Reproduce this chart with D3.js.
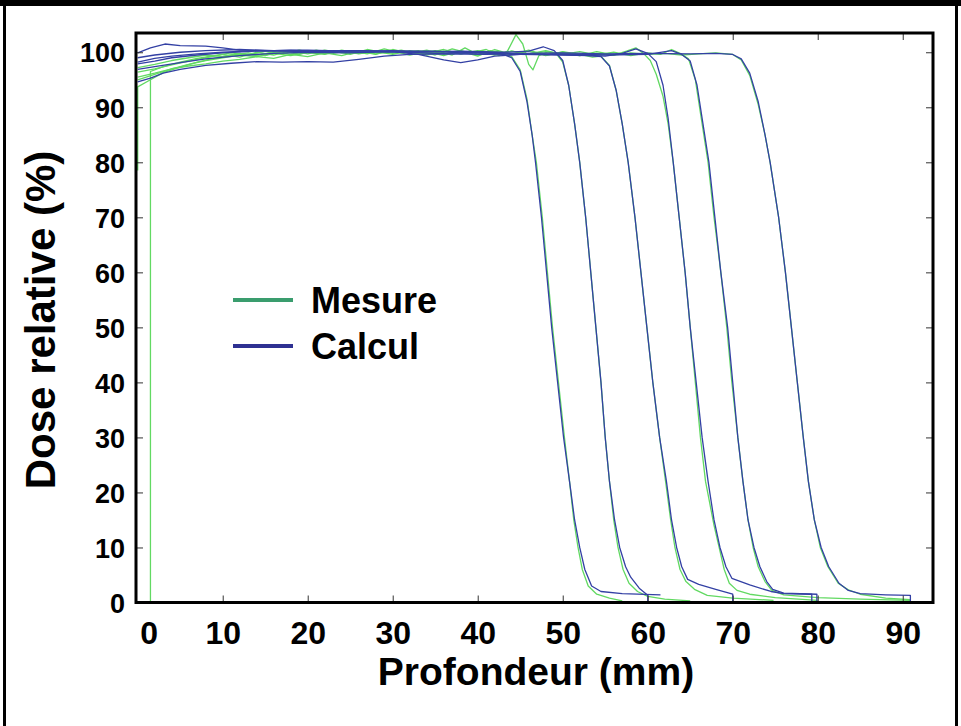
<!DOCTYPE html>
<html><head><meta charset="utf-8">
<script src="https://cdn.jsdelivr.net/npm/d3@7/dist/d3.min.js"></script>
<style>
html,body{margin:0;padding:0;background:#fff;}
svg{display:block;font-family:"Liberation Sans",Arial,sans-serif;}
</style></head>
<body><svg id="chart" width="961" height="726"></svg>
<script>
// ---------- data ----------
const xTicks = [0,10,20,30,40,50,60,70,80,90];
const yTicks = [0,10,20,30,40,50,60,70,80,90,100];
const legendLabels = ["Mesure","Calcul"];
const xTitle = "Profondeur (mm)";
const yTitle = "Dose relative (%)";

// Mesure (green)
const mesure1 = [[1.5,0],[1.5,96.5],[3,97.4],[5,98.2],[7,98.9],[9,99.4],[11,99.9],[13,99.5],[15,100.2],[17,99.7],[19,100.4],[21,99.8],[23,100.3],[25,99.6],[27,100.5],[29,99.9],[31,100.4],[33,99.7],[35,100.3],[37,99.5],[38.5,100.8],[40,99.6],[41.5,100.3],[43,99.7],[44,99.2],[45,96.8],[45.8,91.5],[46.4,85],[46.9,80],[47.6,70],[48.2,60],[48.8,50],[49.5,40],[50.2,30],[50.8,22],[51.3,15],[51.8,10],[52.3,6],[53,3],[54,1.5],[55.5,0.8],[57,0.3]];
const mesure2 = [[0,78.5],[0,93.7],[1.5,95],[3,96.3],[5,97.3],[7,98.2],[9,98.9],[11,99.5],[13,99.9],[15,99.4],[17,100.2],[19,99.6],[21,100.4],[23,99.8],[25,100.3],[27,99.7],[29,100.6],[31,99.9],[33,100.3],[35,99.5],[37,100.6],[39,99.8],[41,100.5],[42.5,99.4],[43.5,100.2],[44.5,103.2],[45.3,101.5],[46,97.8],[46.5,96.8],[47.2,99.4],[48.3,100.1],[49.3,99.6],[50,98.2],[50.7,94],[51.4,87],[52,80],[52.7,70],[53.3,60],[53.9,50],[54.5,40],[55,30],[55.5,22],[56,15],[56.5,10],[57.1,6],[57.8,3.5],[58.8,2],[60,1.1],[62,0.6],[65,0.3]];
const mesure3 = [[0,96.4],[2,97],[4,97.7],[6,98.4],[8,99],[10,99.6],[12,99.1],[14,100],[16,99.5],[18,100.3],[20,99.7],[22,100.4],[24,99.9],[26,100.2],[28,99.6],[30,100.5],[32,99.8],[34,100.4],[36,99.6],[38,100.2],[40,99.3],[42,100.5],[44,99.6],[46,100.2],[48,99.4],[50,100.1],[52,99.6],[53.5,99.1],[54.5,99.3],[55.5,97.6],[56.3,93],[57,87],[57.7,80],[58.5,70],[59.2,60],[59.9,50],[60.6,40],[61.4,30],[62.1,22],[62.7,15],[63.2,10],[63.8,6],[64.5,3.8],[65.5,2.4],[67,1.3],[70,0.8],[74.8,0.4]];
const mesure4 = [[0,95.5],[2,96.2],[4,97],[6,97.5],[8,97.9],[10,98.4],[12,98.7],[14,99.2],[16,98.9],[18,99.6],[20,99.2],[22,99.9],[24,99.4],[26,100.2],[28,99.7],[30,100.3],[32,99.5],[34,100.1],[36,99.4],[38,100.3],[40,99.5],[42,100.2],[44,99.6],[46,100.4],[48,99.5],[50,100],[52,99.4],[54,100.1],[56,99.5],[57.5,100.2],[58.6,100.8],[59.5,99.8],[60.3,98.5],[61,96],[61.8,92],[62.4,87],[63,80],[63.7,70],[64.4,60],[65,50],[65.6,40],[66.2,30],[66.8,22],[67.3,18],[67.8,14],[68.4,10],[69,6],[69.6,3.5],[70.5,2.2],[72,1.5],[75,0.9],[80,0.4]];
const mesure5 = [[0,97.2],[2,97.8],[4,98.5],[6,99],[8,99.5],[10,99.2],[12,99.8],[14,99.4],[16,100.1],[18,99.6],[20,100.2],[22,99.7],[24,100.4],[26,99.8],[28,100.1],[30,99.6],[32,100.3],[34,99.8],[36,100.5],[38,99.7],[40,100.1],[42,99.5],[44,100.2],[46,99.7],[48,100.3],[50,99.6],[52,100.1],[54,99.5],[56,100],[58,99.4],[60,99.9],[61.5,99.6],[62.8,100.5],[63.8,99.8],[64.8,98.8],[65.6,95],[66.3,88],[67.1,80],[67.8,70],[68.6,60],[69.3,50],[69.9,40],[70.6,30],[71.2,22],[71.8,15],[72.4,10],[73,6.5],[73.8,3.8],[74.6,2.2],[76,1.4],[80,0.9],[85,0.6],[90.9,0.4]];
const mesure6 = [[0,95],[2,96],[4,97],[6,97.8],[8,98.5],[10,99],[12,99.5],[14,99.2],[16,99.8],[18,99.4],[20,100],[22,99.6],[24,100.3],[26,99.7],[28,100.2],[30,99.8],[32,100.1],[34,99.5],[36,100.2],[38,99.7],[40,100.3],[42,99.6],[44,100.2],[46,99.6],[48,100.1],[50,99.7],[52,99.4],[54,99.8],[56,99.5],[58,99.9],[60,99.6],[62,99.8],[64,99.5],[66,99.7],[68,99.9],[70,99.6],[71,98.6],[72,95.8],[73,90.5],[73.8,85],[74.4,80],[75.4,70],[76.2,60],[76.9,50],[77.6,40],[78.3,30],[78.9,22],[79.6,15],[80.3,10],[81.2,6.5],[82.4,3.5],[83.6,2.3],[85,1.5],[88,0.8],[90.9,0.5]];

// Calcul (blue)
const calcul1 = [[0,99.9],[1.5,100.8],[3.2,101.5],[5,101.2],[8,101.1],[10,100.8],[12,100.4],[15,100.3],[20,100.2],[25,100.3],[30,100.1],[35,100.2],[38,99.9],[41,100],[43,99.6],[44,99],[45,96.5],[45.8,91],[46.4,85],[46.8,80],[47.5,70],[48.1,60],[48.7,50],[49.4,40],[50.1,30],[50.8,22],[51.4,15],[52,10],[52.6,6],[53.4,3],[54.5,2],[57,1.6],[61.5,1.4]];
const calcul2 = [[0,98.2],[2,98.9],[4,99.3],[7,99.7],[10,100],[14,100.3],[20,100.1],[26,100.3],[32,100],[38,100.2],[43,100],[46,100.2],[47.7,101],[49,100.3],[50,98.5],[50.7,94],[51.4,87],[52,80],[52.7,70],[53.3,60],[53.9,50],[54.5,40],[55,30],[55.5,22],[56.1,15],[56.7,10],[57.4,6.5],[58,4.6],[59,2.6],[60,1.3],[60,0]];
const calcul3 = [[0,96.9],[2,97.4],[5,98.1],[8,98.8],[12,99.4],[16,99.8],[20,100],[25,99.9],[30,100.1],[35,99.8],[40,99.9],[45,99.6],[50,99.5],[53,99.4],[54.5,99.2],[55.5,97.5],[56.3,93],[57,87],[57.7,80],[58.5,70],[59.2,60],[59.9,50],[60.6,40],[61.4,30],[62.2,22],[62.8,15],[63.4,10],[64,6.5],[64.7,4.2],[66,3.3],[68,2.4],[70,1.5],[70,0]];
const calcul4 = [[0,94.6],[1.5,95.3],[3,96.2],[5,96.9],[8,97.6],[11,98],[14,98.3],[17,98.2],[20,98.3],[23,98.2],[26,98.7],[29,99.3],[32,99.6],[36,99.7],[41,99.6],[44,99.7],[48,99.6],[52,99.5],[55,99.3],[57,99.8],[58.6,100.6],[60,99.8],[61,98.3],[61.8,94],[62.4,88],[63,80],[63.7,70],[64.4,60],[65,50],[65.7,40],[66.4,30],[67.1,22],[67.8,15],[68.5,10],[69.2,6.5],[69.9,4.4],[72,3.2],[74.5,2],[76,1.6],[79.3,1.5],[79.3,0]];
const calcul5 = [[0,97.9],[2,98.4],[4,99],[7,99.5],[10,99.9],[14,100.2],[18,100.4],[22,100.2],[26,100],[30,100.1],[33,99.6],[36,98.6],[38,98.1],[40,98.6],[42,99.3],[45,99.6],[50,99.7],[55,99.5],[60,99.6],[62.8,100.3],[64,99.6],[65,98.4],[65.8,94],[66.5,87],[67.2,80],[67.9,70],[68.6,60],[69.4,50],[70,40],[70.6,30],[71.2,22],[71.8,15],[72.5,10],[73.2,6.5],[74,3.8],[74.7,2.4],[76,1.7],[79.9,1.5],[79.9,0]];
const calcul6 = [[0,99],[2,99.5],[5,100],[8,100.3],[12,100.5],[16,100.3],[20,100.4],[25,100.2],[30,100.3],[35,100.1],[40,100],[45,99.8],[50,99.9],[55,99.7],[60,99.8],[65,99.7],[68,99.8],[70,99.6],[71,98.8],[72,96.2],[73,91],[73.8,85],[74.4,80],[75.4,70],[76.2,60],[76.9,50],[77.6,40],[78.3,30],[78.9,22],[79.6,15],[80.4,10],[81.3,6.5],[82.5,3.5],[83.6,2.2],[85,1.6],[88,1.4],[90.9,1.3],[90.9,0]];

const mesureSeries = [mesure1,mesure2,mesure3,mesure4,mesure5,mesure6];
const calculSeries = [calcul1,calcul2,calcul3,calcul4,calcul5,calcul6];

// ---------- drawing ----------
const svg = d3.select("#chart");
const W = 961, H = 726;
const plot = {left:136, right:933, top:33, bottom:602.5};
const GREEN = "#62d962", BLUE = "#3340a4";
const LEG_GREEN = "#3a9d6e", LEG_BLUE = "#2e3192";

svg.append("rect").attr("width",W).attr("height",H).attr("fill","#fff");

// outer frame
svg.append("rect").attr("x",0).attr("y",0).attr("width",W).attr("height",6).attr("fill","#000");
svg.append("line").attr("x1",4.5).attr("x2",4.5).attr("y1",0).attr("y2",H).attr("stroke","#000").attr("stroke-width",3);
svg.append("line").attr("x1",956.5).attr("x2",956.5).attr("y1",0).attr("y2",H).attr("stroke","#000").attr("stroke-width",3);

const x = d3.scaleLinear().domain([-0.2, 93.56]).range([plot.left, plot.right]);
const y = d3.scaleLinear().domain([0, 103.5]).range([plot.bottom, plot.top]);

const line = d3.line().x(d=>x(d[0])).y(d=>y(d[1])).curve(d3.curveMonotoneX);
const lineStep = d3.line().x(d=>x(d[0])).y(d=>y(d[1]));

svg.append("clipPath").attr("id","clip").append("rect")
  .attr("x",plot.left).attr("y",plot.top).attr("width",plot.right-plot.left).attr("height",plot.bottom-plot.top);

const g = svg.append("g").attr("clip-path","url(#clip)");
g.selectAll("path.mes").data(mesureSeries).join("path").attr("class","mes")
  .attr("d",lineStep).attr("fill","none").attr("stroke",GREEN).attr("stroke-width",1.3).attr("stroke-linejoin","round");
g.selectAll("path.cal").data(calculSeries).join("path").attr("class","cal")
  .attr("d",lineStep).attr("fill","none").attr("stroke",BLUE).attr("stroke-width",1.3).attr("stroke-linejoin","round");

// ticks (inward, all four sides)
const tickStyle = sel => { sel.select(".domain").remove(); sel.selectAll("line").attr("stroke","#333").attr("stroke-width",1); sel.selectAll("text").remove(); };
svg.append("g").attr("transform",`translate(0,${plot.bottom})`)
  .call(d3.axisTop(x).tickValues(xTicks.filter(v=>v>0)).tickSize(7)).call(tickStyle);
svg.append("g").attr("transform",`translate(0,${plot.top})`)
  .call(d3.axisBottom(x).tickValues(xTicks.filter(v=>v>0)).tickSize(7)).call(tickStyle);
svg.append("g").attr("transform",`translate(${plot.left},0)`)
  .call(d3.axisRight(y).tickValues(yTicks.filter(v=>v>0)).tickSize(7)).call(tickStyle);
svg.append("g").attr("transform",`translate(${plot.right},0)`)
  .call(d3.axisLeft(y).tickValues(yTicks.filter(v=>v>0)).tickSize(7)).call(tickStyle);

// frame
svg.append("rect").attr("x",plot.left).attr("y",plot.top).attr("width",plot.right-plot.left).attr("height",plot.bottom-plot.top)
  .attr("fill","none").attr("stroke","#000").attr("stroke-width",3);

// tick labels
const xl = svg.append("g").attr("transform",`translate(0,${plot.bottom})`)
  .call(d3.axisBottom(x).tickValues(xTicks).tickSize(0).tickPadding(0).tickFormat(d3.format("d")));
xl.select(".domain").remove();
xl.selectAll("text").attr("font-size",32).attr("font-weight","bold").attr("fill","#000")
  .attr("font-family","'Liberation Sans',Arial,sans-serif")
  .attr("y",41).attr("dy",0)
  .attr("dx",d=>d===0?11:0);

const yl = svg.append("g").attr("transform",`translate(${plot.left},0)`)
  .call(d3.axisLeft(y).tickValues(yTicks).tickSize(0).tickPadding(11).tickFormat(d3.format("d")));
yl.select(".domain").remove();
yl.selectAll("text").attr("font-size",27).attr("font-weight","bold").attr("fill","#000")
  .attr("font-family","'Liberation Sans',Arial,sans-serif").attr("dy","0.36em");

// axis titles
svg.append("text").attr("x",536).attr("y",685).attr("text-anchor","middle")
  .attr("font-size",39).attr("font-weight","bold").text(xTitle);
svg.append("text").attr("transform","translate(55,320) rotate(-90)").attr("text-anchor","middle")
  .attr("font-size",42).attr("font-weight","bold").text(yTitle);

// legend
const legColors = [LEG_GREEN, LEG_BLUE];
const leg = svg.append("g");
legendLabels.forEach((lab,i)=>{
  const cy = 300 + i*46;
  leg.append("line").attr("x1",233).attr("x2",293).attr("y1",cy).attr("y2",cy)
    .attr("stroke",legColors[i]).attr("stroke-width",4);
  leg.append("text").attr("x",311).attr("y",cy+12.5).attr("font-size",36).attr("font-weight","bold").text(lab);
});
</script></body></html>
